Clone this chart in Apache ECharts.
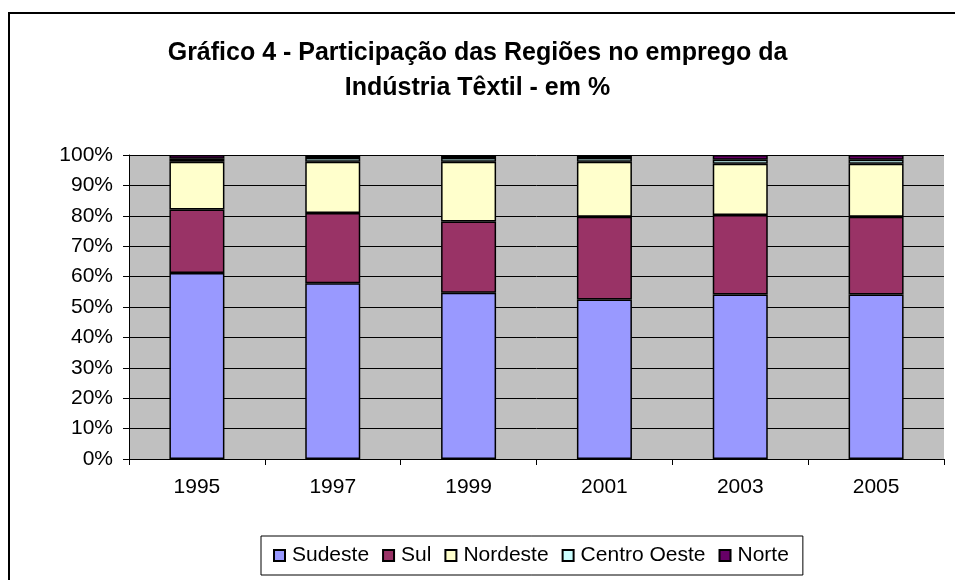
<!DOCTYPE html>
<html>
<head>
<meta charset="utf-8">
<script src="https://cdn.jsdelivr.net/npm/echarts@6/dist/echarts.min.js"></script>
<style>
  html, body { margin: 0; padding: 0; background: #fff; }
  #main { width: 955px; height: 580px; }
</style>
</head>
<body>
<div id="main"></div>
<script>
// dados (em %)
var anos = ["1995", "1997", "1999", "2001", "2003", "2005"];
var sudeste = [61.2, 57.8, 54.7, 52.5, 54.1, 54.1];
var sul = [20.9, 23.1, 23.4, 27.2, 26.2, 25.6];
var nordeste = [15.7, 16.9, 19.7, 18.1, 16.8, 17.4];
var centroOeste = [1.0, 1.2, 1.2, 1.2, 1.3, 1.3];
var norte = [1.2, 1.0, 1.0, 1.0, 1.6, 1.6];
var yTicks = [0, 10, 20, 30, 40, 50, 60, 70, 80, 90, 100];

var myChart = echarts.init(document.getElementById("main"));

function serie(nome, dados, cor) {
  return {
    name: nome,
    type: "bar",
    stack: "total",
    data: dados,
    barWidth: 55,
    itemStyle: { color: cor, borderColor: "#000", borderWidth: 1.5 },
  };
}

var fonte = "Liberation Sans, Arial, sans-serif";

option = {
  animation: false,
  backgroundColor: "#fff",
  textStyle: { fontFamily: fonte },
  title: {
    text: "Gráfico 4 - Participação das Regiões no emprego da\nIndústria Têxtil - em %",
    left: "center",
    top: 31,
    textStyle: { fontFamily: fonte, fontSize: 25, fontWeight: "bold", color: "#000", lineHeight: 35 },
  },
  graphic: [
    {
      type: "rect",
      shape: { x: 9, y: 13, width: 960, height: 580 },
      style: { fill: null, stroke: "#000", lineWidth: 2 },
      silent: true,
      z: 100,
    },
  ],
  legend: {
    bottom: 5,
    left: 261,
    icon: "rect",
    itemWidth: 11,
    itemHeight: 11,
    itemGap: 13,
    padding: [9, 14, 9, 12],
    borderColor: "#000",
    borderWidth: 1,
    textStyle: { fontFamily: fonte, fontSize: 21, color: "#000", padding: [0, 0, 0, 2] },
    data: ["Sudeste", "Sul", "Nordeste", "Centro Oeste", "Norte"],
  },
  grid: { left: 129, right: 11, top: 155, bottom: 121, backgroundColor: "#C0C0C0", show: true, borderWidth: 0 },
  xAxis: {
    type: "category",
    data: anos,
    axisLine: { lineStyle: { color: "#000", width: 1 } },
    axisTick: { show: true, length: 6, lineStyle: { color: "#000" } },
    axisLabel: { fontFamily: fonte, fontSize: 21, color: "#000", margin: 18 },
  },
  yAxis: {
    type: "value",
    min: 0,
    max: 100,
    interval: 10,
    axisLine: { show: true, lineStyle: { color: "#000", width: 1 } },
    axisTick: { show: true, length: 6, lineStyle: { color: "#000" } },
    splitLine: { lineStyle: { color: "#000", width: 1 } },
    axisLabel: {
      fontFamily: fonte,
      fontSize: 21,
      color: "#000",
      margin: 16,
      formatter: function (v) { return yTicks.indexOf(v) >= 0 ? v + "%" : ""; },
    },
  },
  series: [
    serie("Sudeste", sudeste, "#9999FF"),
    serie("Sul", sul, "#993366"),
    serie("Nordeste", nordeste, "#FFFFCC"),
    serie("Centro Oeste", centroOeste, "#CCFFFF"),
    serie("Norte", norte, "#660066"),
  ],
};

myChart.setOption(option);
</script>
</body>
</html>
